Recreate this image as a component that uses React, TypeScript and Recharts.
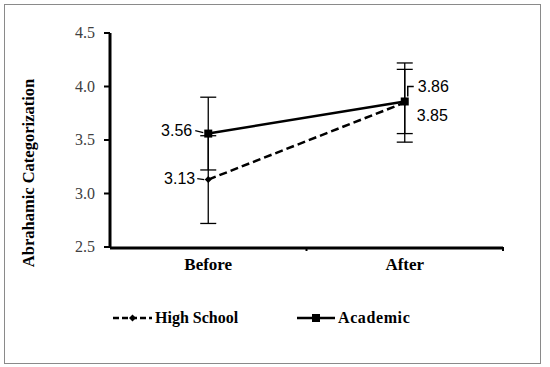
import React from 'react';
import { LineChart, Line, XAxis, YAxis, ErrorBar, LabelList, Legend, ReferenceLine } from 'recharts';

const categories = ['Before', 'After'];
const highSchool = [3.13, 3.85];
const academic = [3.56, 3.86];
const highSchoolErr = [0.41, 0.37];
const academicErr = [0.34, 0.3];
const yTicks = [2.5, 3.0, 3.5, 4.0, 4.5];
const seriesNames = ['High School', 'Academic'];
const yTitle = 'Abrahamic Categorization';

const data = categories.map((c, i) => ({
  cat: c,
  hs: highSchool[i],
  ac: academic[i],
  hsErr: highSchoolErr[i],
  acErr: academicErr[i],
  slot: i + 0.5,
}));
const boundaries = categories.map((_, i) => i + 1);

const serif = '"Liberation Serif", "Times New Roman", serif';
const sans = '"Liberation Sans", Arial, sans-serif';

const Diamond = (props: any) => {
  const { cx, cy, index } = props;
  if (cx == null || cy == null) return <g key={`d${index}`} />;
  const r = 3.5;
  return (
    <polygon
      key={`d${index}`}
      points={`${cx},${cy - r} ${cx + r},${cy} ${cx},${cy + r} ${cx - r},${cy}`}
      fill="#000"
    />
  );
};

const Square = (props: any) => {
  const { cx, cy, index } = props;
  if (cx == null || cy == null) return <g key={`s${index}`} />;
  const r = 4;
  return <rect key={`s${index}`} x={cx - r} y={cy - r} width={2 * r} height={2 * r} fill="#000" />;
};

const AcademicLabel = (props: any) => {
  const { x, y, value, index } = props;
  const txt = Number(value).toFixed(2);
  if (index === 0) {
    return (
      <g>
        <line x1={x - 13} y1={y - 3} x2={x - 5} y2={y - 1} stroke="#000" strokeWidth={1.2} />
        <text x={x - 16} y={y + 2} textAnchor="end" fontFamily={sans} fontSize={16} fill="#000">
          {txt}
        </text>
      </g>
    );
  }
  return (
    <g>
      <polyline
        points={`${x + 9},${y - 15} ${x + 3},${y - 15} ${x + 3},${y - 5}`}
        fill="none"
        stroke="#000"
        strokeWidth={1.5}
      />
      <text x={x + 13} y={y - 9} textAnchor="start" fontFamily={sans} fontSize={16} fill="#000">
        {txt}
      </text>
    </g>
  );
};

const HighSchoolLabel = (props: any) => {
  const { x, y, value, index } = props;
  const txt = Number(value).toFixed(2);
  if (index === 0) {
    return (
      <g>
        <line x1={x - 11} y1={y - 1} x2={x - 4} y2={y} stroke="#000" strokeWidth={1.2} />
        <text x={x - 13} y={y + 4} textAnchor="end" fontFamily={sans} fontSize={16} fill="#000">
          {txt}
        </text>
      </g>
    );
  }
  return (
    <text x={x + 12} y={y + 18} textAnchor="start" fontFamily={sans} fontSize={16} fill="#000">
      {txt}
    </text>
  );
};

const YTick = (props: any) => {
  const { x, y, payload } = props;
  return (
    <text x={x} y={y} dy={5} textAnchor="end" style={{ fontFamily: serif }} fontSize={16} fill="#404040">
      {Number(payload.value).toFixed(1)}
    </text>
  );
};

const XTick = (props: any) => {
  const { x, y, payload } = props;
  return (
    <text x={x} y={y} dy={11} textAnchor="middle" style={{ fontFamily: serif }} fontWeight="bold" fontSize={17} fill="#000">
      {payload.value}
    </text>
  );
};

const BoundaryTick = (props: any) => {
  const { x1, y1, x2, y2 } = props;
  if (x1 == null || y1 == null) return <g />;
  const bottom = Math.max(Number(y1), Number(y2));
  const x = Number(x1);
  return <line x1={x} y1={bottom} x2={x} y2={bottom + 4} stroke="#000" strokeWidth={2} />;
};

const LegendContent = () => (
  <svg width={550} height={30} style={{ display: 'block' }}>
    <g transform="translate(113,15)">
      <line x1={0} y1={0} x2={39} y2={0} stroke="#000" strokeWidth={2.5} strokeDasharray="6 3" />
      <polygon points="19.5,-3.5 23,0 19.5,3.5 16,0" fill="#000" />
      <text x={42} y={5} fontFamily={serif} fontWeight="bold" fontSize={16} fill="#000">
        {seriesNames[0]}
      </text>
    </g>
    <g transform="translate(297,15)">
      <line x1={0} y1={0} x2={38} y2={0} stroke="#000" strokeWidth={2.5} />
      <rect x={15} y={-4} width={8} height={8} fill="#000" />
      <text x={41} y={5} fontFamily={serif} fontWeight="bold" fontSize={16} fill="#000" letterSpacing={0.6}>
        {seriesNames[1]}
      </text>
    </g>
  </svg>
);

const YLabel = (props: any) => {
  const { viewBox } = props;
  const cx = viewBox.x - 22;
  const cy = viewBox.y + viewBox.height / 2 + 33;
  return (
    <text
      x={cx}
      y={cy}
      transform={`rotate(-90, ${cx}, ${cy})`}
      textAnchor="middle"
      dominantBaseline="central"
      style={{ fontFamily: serif }}
      fontWeight="bold"
      fontSize={16.5}
      fill="#000"
    >
      {yTitle}
    </text>
  );
};

export default function App() {
  return (
    <div style={{ position: 'absolute', left: 0, top: 0, width: 550, height: 367, background: '#fff' }}>
      <div
        style={{
          position: 'absolute',
          left: 4,
          top: 4,
          width: 535,
          height: 358,
          border: '1.5px solid #8a8a8a',
          pointerEvents: 'none',
        }}
      />
      <LineChart
        width={550}
        height={367}
        data={data}
        margin={{ top: 33, right: 47, bottom: 118, left: 50 }}
      >
        <XAxis
          xAxisId="frame"
          type="number"
          dataKey="slot"
          domain={[0, categories.length]}
          tick={false}
          tickLine={false}
          axisLine={{ stroke: '#000', strokeWidth: 3 }}
          height={1}
        />
        <XAxis
          dataKey="cat"
          scale="band"
          height={1}
          tickLine={false}
          tickSize={0}
          tickMargin={12}
          axisLine={false}
          tick={<XTick />}
        />
        <YAxis
          width={60}
          domain={[2.5, 4.5]}
          ticks={yTicks}
          tickSize={6}
          tickMargin={9}
          axisLine={{ stroke: '#000', strokeWidth: 3 }}
          tickLine={{ stroke: '#000', strokeWidth: 2 }}
          tick={<YTick />}
          label={{ content: <YLabel /> } as any}
        />
        {boundaries.map((b) => (
          <ReferenceLine
            key={`b${b}`}
            xAxisId="frame"
            x={b}
            stroke="none"
            ifOverflow="visible"
            shape={(p: any) => <BoundaryTick {...p} />}
          />
        ))}
        <Legend
          layout="horizontal"
          verticalAlign="middle"
          align="center"
          wrapperStyle={{ position: 'absolute', left: 0, top: 303, width: 550, height: 30 }}
          content={() => <LegendContent />}
        />
        <Line
          xAxisId="frame"
          name={seriesNames[0]}
          dataKey="hs"
          stroke="#000"
          strokeWidth={2.5}
          strokeDasharray="8 4"
          dot={(p: any) => <Diamond {...p} />}
          activeDot={false}
          isAnimationActive={false}
        >
          <ErrorBar dataKey="hsErr" direction="y" width={8} stroke="#000" strokeWidth={1.3} />
          <LabelList dataKey="hs" content={(p: any) => <HighSchoolLabel {...p} />} />
        </Line>
        <Line
          xAxisId="frame"
          name={seriesNames[1]}
          dataKey="ac"
          stroke="#000"
          strokeWidth={2.5}
          dot={(p: any) => <Square {...p} />}
          activeDot={false}
          isAnimationActive={false}
        >
          <ErrorBar dataKey="acErr" direction="y" width={8} stroke="#000" strokeWidth={1.3} />
          <LabelList dataKey="ac" content={(p: any) => <AcademicLabel {...p} />} />
        </Line>
      </LineChart>
    </div>
  );
}
